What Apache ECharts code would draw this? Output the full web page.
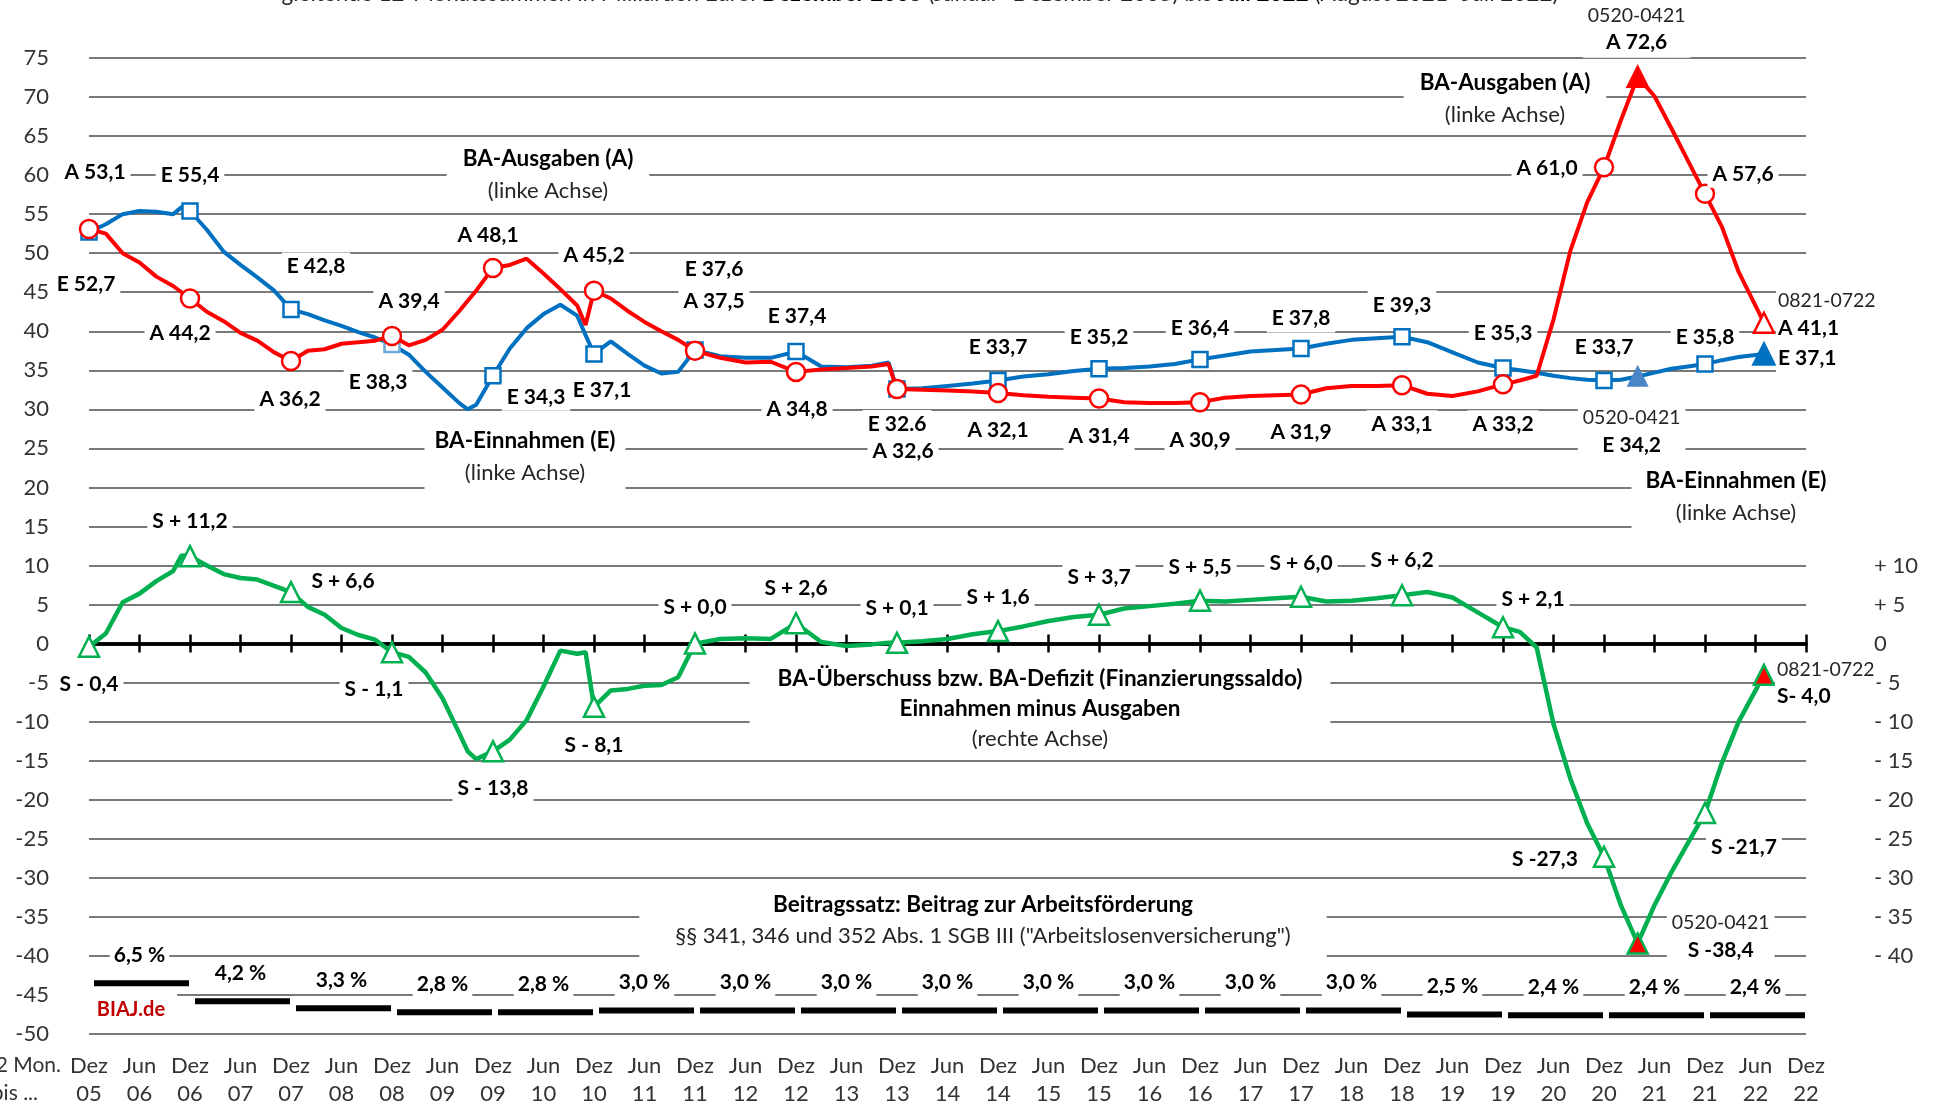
<!DOCTYPE html>
<html>
<head>
<meta charset="utf-8">
<title>BA-Einnahmen, BA-Ausgaben und Finanzierungssaldo</title>
<script src="https://cdn.jsdelivr.net/npm/echarts@6.0.0/dist/echarts.min.js"></script>
<style>
    html, body { margin: 0; padding: 0; background: #fff; overflow: hidden; }
    #main { width: 1937px; height: 1107px; }
</style>
</head>
<body>
<div id="main"></div>
<script>
// Monatsindex: 0 = Dez 05 ... 204 = Dez 22 (gleitende 12-Monatssummen)
var monate = [0, 2, 4, 6, 8, 10, 11, 12, 14, 16, 18, 20, 22, 24, 26, 28, 30, 32, 34, 36,
    38, 40, 42, 44, 45, 46, 48, 50, 52, 54, 56, 58, 59, 60, 62, 64, 66, 68, 70, 72,
    75, 78, 81, 84, 87, 90, 93, 95, 96, 99, 102, 105, 108, 111, 114, 117, 120,
    123, 126, 129, 132, 135, 138, 141, 144, 147, 150, 153, 156, 159, 162, 165, 168,
    170, 172, 174, 176, 178, 180, 182, 184, 186, 188, 190, 192, 194, 196, 199];

// BA-Ausgaben (A) in Mrd. Euro
var ausgaben = [53.1, 52.5, 50.0, 48.8, 47.0, 45.8, 45.0, 44.2, 42.5, 41.3, 39.8, 38.8, 37.3, 36.2, 37.5, 37.7, 38.4, 38.6, 38.8, 39.4,
    38.2, 38.9, 40.2, 42.6, 43.9, 45.2, 48.1, 48.5, 49.3, 47.4, 45.4, 43.3, 40.8, 45.2, 44.2, 42.6, 41.2, 40.0, 38.9, 37.5,
    36.6, 36.0, 36.1, 34.8, 35.1, 35.3, 35.5, 35.8, 32.6, 32.5, 32.4, 32.3, 32.1, 31.8, 31.6, 31.5, 31.4,
    30.9, 30.8, 30.8, 30.9, 31.5, 31.7, 31.8, 31.9, 32.7, 33.0, 33.0, 33.1, 32.0, 31.7, 32.3, 33.2,
    33.7, 34.3, 41.5, 50.3, 56.5, 61.0, 67.0, 72.6, 70.1, 66.0, 61.8, 57.6, 53.4, 47.6, 41.1];

// BA-Einnahmen (E) in Mrd. Euro
var einnahmen = [52.7, 53.7, 55.0, 55.4, 55.3, 55.0, 55.9, 55.4, 53.0, 50.2, 48.5, 46.9, 45.2, 42.8, 42.2, 41.4, 40.7, 39.9, 39.2, 38.3,
    37.0, 34.8, 32.8, 30.8, 30.0, 30.6, 34.3, 37.8, 40.4, 42.2, 43.4, 42.0, 39.5, 37.1, 38.7, 37.1, 35.6, 34.6, 34.8, 37.6,
    36.8, 36.6, 36.6, 37.4, 35.5, 35.4, 35.6, 36.0, 32.6, 32.7, 33.0, 33.3, 33.7, 34.2, 34.5, 34.9, 35.2,
    35.3, 35.5, 35.8, 36.4, 36.9, 37.4, 37.6, 37.8, 38.4, 38.9, 39.1, 39.3, 38.6, 37.3, 36.0, 35.3,
    35.0, 34.7, 34.3, 34.0, 33.8, 33.7, 33.8, 34.2, 34.7, 35.2, 35.5, 35.8, 36.3, 36.7, 37.1];

// Finanzierungssaldo (S) = Einnahmen minus Ausgaben (rechte Achse)
var saldo = [-0.4, 1.3, 5.3, 6.4, 8.0, 9.3, 11.3, 11.2, 10.0, 8.9, 8.4, 8.2, 7.4, 6.6, 4.7, 3.7, 2.0, 1.1, 0.5, -1.1,
    -1.7, -3.7, -7.0, -11.5, -13.8, -14.8, -13.8, -12.3, -9.8, -5.5, -0.9, -1.3, -1.1, -8.1, -6.0, -5.8, -5.4, -5.3, -4.3, 0.0,
    0.6, 0.7, 0.6, 2.6, 0.2, -0.3, -0.1, 0.1, 0.1, 0.3, 0.6, 1.2, 1.6, 2.2, 2.9, 3.4, 3.7,
    4.5, 4.8, 5.1, 5.5, 5.4, 5.6, 5.8, 6.0, 5.4, 5.5, 5.8, 6.2, 6.6, 5.9, 4.0, 2.1,
    1.5, -0.5, -10.3, -17.3, -23.0, -27.3, -33.5, -38.4, -33.5, -29.3, -25.5, -21.7, -15.3, -10.0, -4.0];

// Beitragssatz zur Arbeitsfoerderung in %, Jahre 2006 bis 2022
var beitragssatz = [6.5, 4.2, 3.3, 2.8, 2.8, 3.0, 3.0, 3.0, 3.0, 3.0, 3.0, 3.0, 3.0, 2.5, 2.4, 2.4, 2.4];

// Beschriftung der x-Achse (halbjaehrlich)
var achsenText = ['Dez\n05', 'Jun\n06', 'Dez\n06', 'Jun\n07', 'Dez\n07', 'Jun\n08', 'Dez\n08', 'Jun\n09', 'Dez\n09',
    'Jun\n10', 'Dez\n10', 'Jun\n11', 'Dez\n11', 'Jun\n12', 'Dez\n12', 'Jun\n13', 'Dez\n13', 'Jun\n14', 'Dez\n14',
    'Jun\n15', 'Dez\n15', 'Jun\n16', 'Dez\n16', 'Jun\n17', 'Dez\n17', 'Jun\n18', 'Dez\n18', 'Jun\n19', 'Dez\n19',
    'Jun\n20', 'Dez\n20', 'Jun\n21', 'Dez\n21', 'Jun\n22', 'Dez\n22'];

var zeitraumSpitze = '0520-0421';
var zeitraumEnde = '0821-0722';
var SPITZE = 184, ENDE = 199;

// Lage der Beschriftungen relativ zum Punkt (Pixel)
var posA = {0: [6, -57], 12: [-10, 35], 24: [-1, 38], 36: [17, -35], 48: [-5, -33], 60: [0, -35], 72: [19, -50],
    84: [1, 37], 96: [6, 62], 108: [0, 37], 120: [0, 38], 132: [0, 38], 144: [0, 38], 156: [0, 39], 168: [0, 40],
    180: [-57, 1], 184: [-1, -48], 192: [38, -20], 199: [12, -8]};
var posE = {0: [-3, 52], 12: [0, -36], 24: [25, -43], 36: [-14, 38], 48: [43, 21], 60: [8, 36], 72: [19, -81],
    84: [1, -35], 96: [0, 35], 108: [0, -33], 120: [0, -32], 132: [0, -31], 144: [0, -30], 156: [0, -32], 168: [0, -35],
    180: [0, -33], 184: [-6, 55], 192: [0, -27], 199: [12, 4]};
var posS = {0: [0, 38], 12: [0, -35], 24: [52, -11], 36: [-18, 37], 48: [0, 37], 60: [0, 38], 72: [0, -36],
    84: [0, -35], 96: [0, -35], 108: [0, -34], 120: [0, -37], 132: [0, -33], 144: [0, -34], 156: [0, -35], 168: [30, -28],
    180: [-59, 2], 184: [83, -7], 192: [39, 34], 199: [11, 8]};

var SCHRIFT = 'Lato';
var ROT = '#FF0000', BLAU = '#0070C0', GRUEN = '#00B050';

function komma(v) {
    return v.toFixed(1).replace('.', ',');
}

function zweiZeilen(oben, unten) {
    return '{duenn|' + oben + '}\n{fett|' + unten + '}';
}

var textA = function (v, m) {
    if (m === SPITZE) return zweiZeilen(zeitraumSpitze, 'A ' + komma(v));
    if (m === ENDE) return zweiZeilen(zeitraumEnde, 'A ' + komma(v));
    return 'A ' + komma(v);
};
var textE = function (v, m) {
    if (m === SPITZE) return zweiZeilen(zeitraumSpitze, 'E ' + komma(v));
    if (m === 96) return 'E ' + v.toFixed(1);
    return 'E ' + komma(v);
};
var textS = function (v, m) {
    if (m === SPITZE) return zweiZeilen(zeitraumSpitze, 'S ' + komma(v));
    if (m === ENDE) return zweiZeilen(zeitraumEnde, 'S- ' + komma(-v));
    if (v >= 0) return 'S + ' + komma(v);
    if (v <= -20) return 'S ' + komma(v);
    return 'S - ' + komma(-v);
};

// Datenpunkte mit Markern und Beschriftung nur an den Stichtagen
function reihe(werte, pos, text, marker) {
    var daten = [];
    for (var i = 0; i < monate.length; i++) {
        var m = monate[i];
        var punkt = {value: [m, werte[i]]};
        if (pos[m]) {
            var sonder = marker.sonder[m] || {};
            var t = text(werte[i], m);
            punkt.symbol = sonder.symbol || marker.symbol;
            punkt.symbolSize = sonder.size || marker.size;
            if (sonder.itemStyle) punkt.itemStyle = sonder.itemStyle;
            punkt.label = {
                show: true,
                offset: pos[m],
                align: m === ENDE ? 'left' : 'center',
                padding: m === ENDE ? [2, 2] : [2, 5],
                formatter: (function (s) { return function () { return s; }; })(t)
            };
        } else {
            punkt.symbol = 'none';
        }
        daten.push(punkt);
    }
    return daten;
}

var labelStil = {
    show: false,
    position: 'inside',
    fontFamily: SCHRIFT,
    fontWeight: 'bold',
    fontSize: 21,
    lineHeight: 24,
    color: '#000',
    backgroundColor: '#fff',
    rich: {
        fett: {fontFamily: SCHRIFT, fontWeight: 'bold', fontSize: 21, lineHeight: 27, color: '#000'},
        duenn: {fontFamily: SCHRIFT, fontWeight: 'normal', fontSize: 19.5, lineHeight: 27, color: '#262626'}
    }
};

var datenA = reihe(ausgaben, posA, textA, {
    symbol: 'circle', size: 18,
    sonder: {
        184: {symbol: 'triangle', size: 20, itemStyle: {color: ROT, borderColor: ROT}},
        199: {symbol: 'triangle', size: 20}
    }
});
var datenE = reihe(einnahmen, posE, textE, {
    symbol: 'rect', size: 15,
    sonder: {
        36: {itemStyle: {borderColor: '#6FA8DC'}},
        184: {symbol: 'triangle', size: 18, itemStyle: {color: '#4A86C8', borderColor: '#4A86C8'}},
        199: {symbol: 'triangle', size: 21, itemStyle: {color: BLAU, borderColor: BLAU}}
    }
});
var datenS = reihe(saldo, posS, textS, {
    symbol: 'triangle', size: 20,
    sonder: {
        184: {itemStyle: {color: ROT}},
        199: {itemStyle: {color: ROT}}
    }
});

var beitragDaten = beitragssatz.map(function (r, i) {
    return [i * 12, i * 12 + 12, r];
});

var chartDom = document.getElementById('main');
chartDom.style.width = window.innerWidth + 'px';
chartDom.style.height = window.innerHeight + 'px';
var myChart = echarts.init(chartDom);

var rechtsFormat = function (v) {
    if (v > 10 || v < -40) return '';
    if (v > 0) return '+ ' + v;
    if (v < 0) return '- ' + (-v);
    return '0';
};

// Kastentexte (weisser Hintergrund unterbricht die Gitterlinien)
function kasten(x, y, text, pad, lh) {
    return {
        type: 'text', x: x, y: y, z: 1,
        style: {
            text: text,
            align: 'center', verticalAlign: 'top', backgroundColor: '#fff', padding: pad,
            rich: {
                f: {fontFamily: SCHRIFT, fontSize: 22.5, fontWeight: 'bold', lineHeight: lh, fill: '#000'},
                n: {fontFamily: SCHRIFT, fontSize: 22, lineHeight: lh, fill: '#262626'}
            }
        }
    };
}

var option = {
    animation: false,
    backgroundColor: '#fff',
    textStyle: {fontFamily: SCHRIFT},
    grid: {left: 89, right: 131, top: 58, bottom: 73, outerBoundsMode: 'none'},
    xAxis: [{
        type: 'value', min: 0, max: 204, interval: 6, position: 'bottom',
        axisLine: {show: false, onZero: false},
        axisTick: {show: false},
        splitLine: {show: false},
        axisLabel: {
            margin: 18, fontSize: 22, lineHeight: 28, color: '#333', fontFamily: SCHRIFT,
            formatter: function (v) { return achsenText[Math.round(v / 6)] || ''; }
        }
    }, {
        // Nulllinie mit Teilstrichen nach unten
        type: 'value', min: 0, max: 204, interval: 6, position: 'bottom',
        axisLine: {show: true, onZero: true, onZeroAxisIndex: 0, lineStyle: {color: '#000', width: 3.5}},
        axisTick: {show: true, inside: false, length: 9, lineStyle: {color: '#000', width: 2.5}},
        axisLabel: {show: false},
        splitLine: {show: false}
    }, {
        // Teilstriche nach oben
        type: 'value', min: 0, max: 204, interval: 6, position: 'top',
        axisLine: {show: true, onZero: true, onZeroAxisIndex: 0, lineStyle: {color: '#000', width: 3.5}},
        axisTick: {show: true, inside: false, length: 9, lineStyle: {color: '#000', width: 2.5}},
        axisLabel: {show: false},
        splitLine: {show: false}
    }],
    yAxis: [{
        type: 'value', min: -50, max: 75, interval: 5, position: 'left',
        axisLine: {show: false, onZero: false},
        axisTick: {show: false},
        splitLine: {show: true, lineStyle: {color: '#4d4d4d', width: 1.5}},
        axisLabel: {margin: 40, fontSize: 22, color: '#333', fontFamily: SCHRIFT}
    }, {
        type: 'value', min: -50, max: 75, interval: 5, position: 'right',
        axisLine: {show: false, onZero: false},
        axisTick: {show: false},
        splitLine: {show: false},
        axisLabel: {margin: 68, fontSize: 22, color: '#333', fontFamily: SCHRIFT, formatter: rechtsFormat}
    }, {
        // Beitragssatz: 0 % liegt auf der Linie -50
        type: 'value', min: 0, max: 125, show: false,
        axisLine: {onZero: false}
    }],
    graphic: [{
        type: 'text', x: 920, y: 5, z: 1,
        style: {
            text: '{n|gleitende 12-Monatssummen in Milliarden Euro: }{f|Dezember 2005}{n| (Januar- Dezember 2005) bis }{f|Juli 2022}{n| (August 2021- Juli 2022)}',
            align: 'center', verticalAlign: 'bottom',
            rich: {
                n: {fontFamily: SCHRIFT, fontSize: 22.5, fill: '#262626'},
                f: {fontFamily: SCHRIFT, fontSize: 22.5, fontWeight: 'bold', fill: '#000'}
            }
        }
    },
        kasten(548, 143, '{f|BA-Ausgaben (A)}\n{n|(linke Achse)}', [0, 16], 32),
        kasten(1505, 67, '{f|BA-Ausgaben (A)}\n{n|(linke Achse)}', [0, 16], 32),
        kasten(525, 425, '{f|BA-Einnahmen (E)}\n{n|(linke Achse)}', [0, 10], 32),
        kasten(1736, 465, '{f|BA-Einnahmen (E)}\n{n|(linke Achse)}', [0, 14], 32),
        kasten(1040, 664, '{f|BA-Überschuss bzw. BA-Defizit (Finanzierungssaldo)}\n{f|Einnahmen minus Ausgaben}\n{n|(rechte Achse)}', [0, 28], 30),
        kasten(983, 889, '{f|Beitragssatz: Beitrag zur Arbeitsförderung}\n{n|§§ 341, 346 und 352 Abs. 1 SGB III ("Arbeitslosenversicherung")}', [0, 36, 6, 36], 31),
    {
        type: 'text', x: 131, y: 1010, z: 1,
        style: {
            text: 'BIAJ.de', align: 'center', verticalAlign: 'middle',
            font: 'bold 20px ' + SCHRIFT, fill: '#C00000', backgroundColor: '#fff', padding: [10, 12]
        }
    }, {
        type: 'text', x: 61, y: 1065, z: 1,
        style: {text: '12 Mon.', align: 'right', verticalAlign: 'middle', font: '21px ' + SCHRIFT, fill: '#333'}
    }, {
        type: 'text', x: 38, y: 1093, z: 1,
        style: {text: 'bis ...', align: 'right', verticalAlign: 'middle', font: '21px ' + SCHRIFT, fill: '#333'}
    }],
    series: [{
        name: 'BA-Einnahmen (E)',
        type: 'line',
        xAxisIndex: 0, yAxisIndex: 0,
        symbol: 'none',
        showSymbol: true,
        lineStyle: {color: BLAU, width: 4},
        itemStyle: {color: '#fff', borderColor: BLAU, borderWidth: 2.5},
        label: labelStil,
        z: 3,
        data: datenE
    }, {
        name: 'BA-Ausgaben (A)',
        type: 'line',
        xAxisIndex: 0, yAxisIndex: 0,
        symbol: 'none',
        showSymbol: true,
        lineStyle: {color: ROT, width: 4},
        itemStyle: {color: '#fff', borderColor: ROT, borderWidth: 2.5},
        label: labelStil,
        z: 4,
        data: datenA
    }, {
        name: 'Finanzierungssaldo (S)',
        type: 'line',
        xAxisIndex: 0, yAxisIndex: 1,
        symbol: 'none',
        showSymbol: true,
        lineStyle: {color: GRUEN, width: 4.5},
        itemStyle: {color: '#fff', borderColor: GRUEN, borderWidth: 2.5},
        label: labelStil,
        z: 5,
        data: datenS
    }, {
        name: 'Beitragssatz',
        type: 'custom',
        xAxisIndex: 0, yAxisIndex: 2,
        encode: {x: [0, 1], y: 2},
        z: 3,
        renderItem: function (params, api) {
            var a = api.coord([api.value(0), api.value(2)]);
            var b = api.coord([api.value(1), api.value(2)]);
            return {
                type: 'group',
                children: [{
                    type: 'line',
                    shape: {x1: a[0] + 5, y1: a[1], x2: b[0] - 1, y2: b[1]},
                    style: {stroke: '#000', lineWidth: 6}
                }, {
                    type: 'text',
                    style: {
                        text: komma(api.value(2)) + ' %',
                        x: (a[0] + b[0]) / 2, y: a[1] - 28,
                        align: 'center', verticalAlign: 'middle',
                        font: 'bold 21px ' + SCHRIFT, fill: '#000',
                        backgroundColor: '#fff', padding: [3, 4]
                    }
                }]
            };
        },
        data: beitragDaten
    }]
};

myChart.setOption(option);

window.onresize = function () {
    myChart.resize();
};
</script>
</body>
</html>
